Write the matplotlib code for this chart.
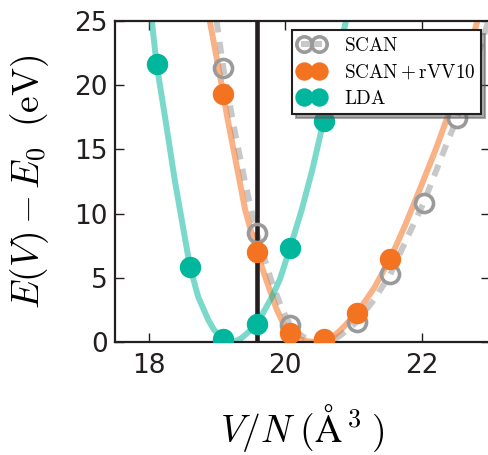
import numpy as np
import matplotlib
matplotlib.use('Agg')
import matplotlib.pyplot as plt

plt.rcParams['mathtext.fontset'] = 'cm'

# data points (volume per atom, energy relative to minimum)
vol_scan = [19.09, 19.58, 20.07, 20.56, 21.05, 21.54, 22.03, 22.52]
e_scan = [21.3, 8.47, 1.34, 0.1, 1.6, 5.28, 10.85, 17.4]

vol_rvv10 = [19.09, 19.58, 20.07, 20.56, 21.05, 21.54]
e_rvv10 = [19.3, 7.04, 0.70, 0.23, 2.25, 6.5]

vol_lda = [18.11, 18.60, 19.09, 19.58, 20.07, 20.56]
e_lda = [21.6, 5.87, 0.25, 1.40, 7.35, 17.2]

# fitted curves
fit_vol_scan = [18.99, 19.09, 19.25, 19.41, 19.58, 19.80, 19.95, 20.07, 20.20,
                20.30, 20.42, 20.55, 20.68, 20.80, 21.05, 21.30, 21.54, 21.75,
                22.03, 22.37, 22.52, 22.75, 22.98]
fit_e_scan = [25.0, 21.3, 16.6, 12.4, 8.47, 4.7, 2.6, 1.34, 0.65,
              0.3, 0.08, 0.0, 0.15, 0.5, 1.6, 3.3, 5.28, 7.69,
              10.85, 15.46, 17.4, 21.0, 25.0]

fit_vol_rvv10 = [18.89, 19.09, 19.14, 19.33, 19.41, 19.58, 19.72, 19.87, 19.97,
                 20.07, 20.18, 20.30, 20.46, 20.56, 20.68, 20.80, 21.05, 21.30,
                 21.54, 21.75, 21.95, 22.20, 22.42, 22.62, 22.82]
fit_e_rvv10 = [25.0, 19.3, 17.7, 12.5, 10.3, 7.04, 4.84, 2.6, 1.45,
               0.70, 0.3, 0.1, 0.0, 0.08, 0.35, 0.9, 2.25, 4.2,
               6.5, 9.0, 11.58, 14.9, 18.1, 21.3, 25.0]

fit_vol_lda = [18.04, 18.11, 18.23, 18.38, 18.50, 18.60, 18.72, 18.87, 18.95,
               19.05, 19.15, 19.25, 19.35, 19.45, 19.58, 19.80, 19.92, 20.07,
               20.24, 20.40, 20.56, 20.72, 20.89]
fit_e_lda = [25.0, 21.6, 17.65, 12.5, 8.9, 5.87, 3.54, 1.73, 1.0,
             0.4, 0.1, 0.05, 0.3, 0.75, 1.40, 3.5, 4.9, 7.35,
             10.3, 13.5, 17.2, 21.0, 25.0]

v_mark = 19.58

teal = '#00b79d'
orange = '#f47321'
gray = '#9a9a9a'

fig = plt.figure(figsize=(4.88, 4.55), dpi=100)
ax = fig.add_axes([115/488, 112.7/455, 374.8/488, 321.7/455])

ax.plot(fit_vol_scan, fit_e_scan, color='#c8c8c8', lw=4.3, dashes=(2.0, 1.6), zorder=2)
ax.plot(fit_vol_rvv10, fit_e_rvv10, color=orange, alpha=0.55, lw=4.3, zorder=2.1,
        solid_joinstyle='round')
ax.plot(fit_vol_lda, fit_e_lda, color=teal, alpha=0.52, lw=4.3, zorder=2.2,
        solid_joinstyle='round')
ax.axvline(v_mark, color='#231f20', lw=3.3, zorder=3)

ax.plot(vol_scan, e_scan, 'o', ms=13, mfc='none', mec=gray, mew=2.6, zorder=4)
ax.plot(vol_rvv10, e_rvv10, 'o', ms=14.4, color=orange, mec=orange, zorder=5)
ax.plot(vol_lda, e_lda, 'o', ms=14.4, color=teal, mec=teal, zorder=6)

# legend handles: marker pairs joined by light line
h1, = ax.plot([], [], '-o', color='#c8c8c8', lw=4.3, ms=13, mfc='none', mec=gray, mew=2.6)
h2, = ax.plot([], [], '-o', color='#f9ae80', lw=4.3, ms=14.4, mfc=orange, mec=orange)
h3, = ax.plot([], [], '-o', color='#7fd6c8', lw=4.3, ms=14.4, mfc=teal, mec=teal)
leg = ax.legend([h1, h2, h3],
                [r'$\mathrm{SCAN}$', r'$\mathrm{SCAN+rVV10}$', r'$\mathrm{LDA}$'],
                loc='upper right', bbox_to_anchor=(0.9765, 0.9708), borderaxespad=0,
                numpoints=2, markerscale=0.85, fontsize=13.8, fancybox=False,
                shadow={'ox': 3, 'oy': -3, 'shade': 0.65}, framealpha=1,
                handlelength=1.4, handletextpad=1.0, labelspacing=0.4,
                borderpad=0.3)
leg.get_frame().set_edgecolor('#231f20')
leg.get_frame().set_linewidth(1.5)
leg.set_zorder(10)

ax.set_xlim(17.5, 23)
ax.set_ylim(0, 25)
ax.set_xticks([18, 20, 22])
ax.set_yticks([0, 5, 10, 15, 20, 25])
ax.tick_params(direction='in', length=6.5, width=1, top=True, right=True,
               labelsize=19, colors='#231f20')
ax.tick_params(axis='x', pad=8)
ax.tick_params(axis='y', pad=5)
for s in ax.spines.values():
    s.set_linewidth(1.6)
    s.set_color('#231f20')

ax.set_xlabel(r'$V/N\;(\mathrm{\AA}^{\,3}\;)$', fontsize=27)
ax.set_ylabel(r'$E(V)-E_0\;\;(\mathrm{eV})$', fontsize=27)
ax.xaxis.set_label_coords(0.5, -0.185)
ax.yaxis.set_label_coords(-0.17, 0.5)

fig.savefig('out.png', dpi=100)
